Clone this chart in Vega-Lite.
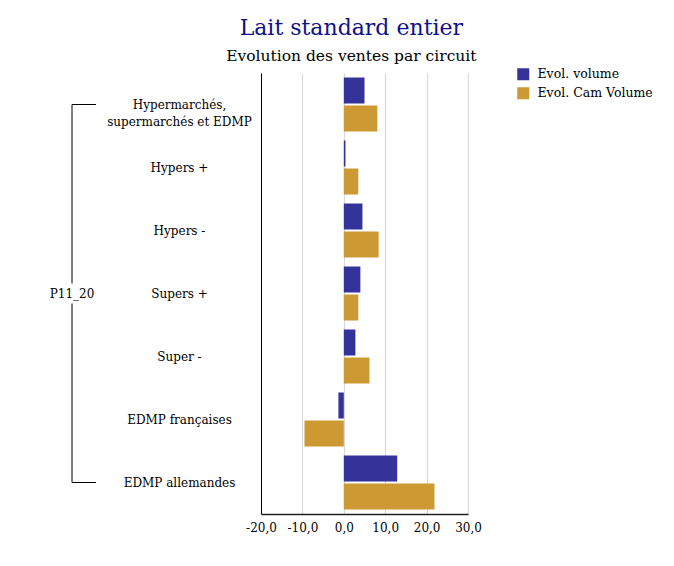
{
  "$schema": "https://vega.github.io/schema/vega-lite/v6.json",
  "background": "white",
  "padding": {"left": 49, "top": 16, "right": 5, "bottom": 5},
  "title": {
    "text": "Lait standard entier",
    "subtitle": "Evolution des ventes par circuit",
    "anchor": "middle",
    "font": "DejaVu Serif",
    "fontSize": 22,
    "fontWeight": "normal",
    "color": "#10108a",
    "subtitleFont": "DejaVu Serif",
    "subtitleFontSize": 15.5,
    "subtitleColor": "black",
    "subtitlePadding": 9,
    "offset": 3
  },
  "datasets": {
    "ventes": [
      {"circuit": "Hypermarchés, supermarchés et EDMP", "serie": "Evol. volume", "valeur": 5.0},
      {"circuit": "Hypermarchés, supermarchés et EDMP", "serie": "Evol. Cam Volume", "valeur": 8.1},
      {"circuit": "Hypers +", "serie": "Evol. volume", "valeur": 0.4},
      {"circuit": "Hypers +", "serie": "Evol. Cam Volume", "valeur": 3.5},
      {"circuit": "Hypers -", "serie": "Evol. volume", "valeur": 4.5},
      {"circuit": "Hypers -", "serie": "Evol. Cam Volume", "valeur": 8.4},
      {"circuit": "Supers +", "serie": "Evol. volume", "valeur": 4.0},
      {"circuit": "Supers +", "serie": "Evol. Cam Volume", "valeur": 3.5},
      {"circuit": "Super -", "serie": "Evol. volume", "valeur": 2.8},
      {"circuit": "Super -", "serie": "Evol. Cam Volume", "valeur": 6.2},
      {"circuit": "EDMP françaises", "serie": "Evol. volume", "valeur": -1.3},
      {"circuit": "EDMP françaises", "serie": "Evol. Cam Volume", "valeur": -9.5},
      {"circuit": "EDMP allemandes", "serie": "Evol. volume", "valeur": 12.9},
      {"circuit": "EDMP allemandes", "serie": "Evol. Cam Volume", "valeur": 21.9}
    ],
    "groupe": [
      {"groupe": "P11_20", "premier": "Hypermarchés, supermarchés et EDMP", "dernier": "EDMP allemandes", "milieu": "Supers +"}
    ]
  },
  "bounds": "flush",
  "spacing": 165,
  "hconcat": [
    {
      "width": 24,
      "height": 441,
      "data": {"name": "groupe"},
      "layer": [
        {
          "mark": {"type": "rule", "color": "black", "strokeWidth": 1},
          "encoding": {
            "x": {"field": "groupe", "type": "nominal", "bandPosition": 0, "scale": {"paddingInner": 0, "paddingOuter": 0}, "axis": null},
            "y": {"field": "premier", "type": "nominal", "scale": {"domain": ["Hypermarchés, supermarchés et EDMP", "Hypers +", "Hypers -", "Supers +", "Super -", "EDMP françaises", "EDMP allemandes"], "paddingInner": 0.143, "paddingOuter": 0.0715}, "axis": null},
            "y2": {"field": "dernier"}
          }
        },
        {
          "transform": [{"fold": ["premier", "dernier"], "as": ["bout", "circuit"]}],
          "mark": {"type": "rule", "color": "black", "strokeWidth": 1},
          "encoding": {
            "x": {"field": "groupe", "type": "nominal", "bandPosition": 0},
            "x2": {"field": "groupe", "bandPosition": 1},
            "y": {"field": "circuit", "type": "nominal"}
          }
        },
        {
          "mark": {"type": "point", "shape": "square", "size": 400, "filled": true, "color": "white", "opacity": 1, "strokeWidth": 0},
          "encoding": {
            "x": {"field": "groupe", "type": "nominal", "bandPosition": 0},
            "y": {"field": "milieu", "type": "nominal"}
          }
        },
        {
          "mark": {"type": "text", "font": "DejaVu Serif", "fontSize": 12, "color": "black", "align": "center", "baseline": "middle"},
          "encoding": {
            "x": {"field": "groupe", "type": "nominal", "bandPosition": 0},
            "y": {"field": "milieu", "type": "nominal"},
            "text": {"field": "groupe"}
          }
        }
      ]
    },
    {
      "width": 207,
      "height": 441,
      "data": {"name": "ventes"},
      "mark": {"type": "bar"},
      "encoding": {
        "y": {
          "field": "circuit", "type": "nominal", "sort": null,
          "scale": {"domain": ["Hypermarchés, supermarchés et EDMP", "Hypers +", "Hypers -", "Supers +", "Super -", "EDMP françaises", "EDMP allemandes"], "paddingInner": 0.143, "paddingOuter": 0.0715},
          "axis": {
            "title": null, "ticks": false, "domainColor": "black", "domainWidth": 1,
            "labelAlign": "center", "labelPadding": 82, "labelLimit": 0,
            "labelFont": "DejaVu Serif", "labelFontSize": 12, "labelColor": "black", "labelLineHeight": 17,
            "labelExpr": "datum.value == 'Hypermarchés, supermarchés et EDMP' ? ['Hypermarchés,', 'supermarchés et EDMP'] : datum.value"
          }
        },
        "yOffset": {
          "field": "serie", "type": "nominal", "sort": ["Evol. volume", "Evol. Cam Volume"],
          "scale": {"paddingInner": 0.0714, "paddingOuter": 0}
        },
        "x": {
          "field": "valeur", "type": "quantitative",
          "scale": {"domain": [-20, 30], "nice": false, "zero": false},
          "axis": {
            "title": null, "values": [-20, -10, 0, 10, 20, 30], "format": ".1f",
            "labelExpr": "replace(replace(datum.label, '.', ','), '\u2212', '-')",
            "labelOverlap": false, "labelBound": false, "labelFlush": false,
            "grid": true, "gridColor": "#d9d9d9", "gridWidth": 1.2,
            "ticks": false, "domainColor": "#222222", "domainWidth": 1.5,
            "labelFont": "DejaVu Serif", "labelFontSize": 12, "labelColor": "black", "labelPadding": 8
          }
        },
        "color": {
          "field": "serie", "type": "nominal",
          "scale": {"domain": ["Evol. volume", "Evol. Cam Volume"], "range": ["#333399", "#cc9933"]},
          "legend": {
            "title": null, "orient": "none", "legendX": 445, "legendY": -5,
            "symbolType": "square", "symbolSize": 144, "symbolStrokeWidth": 0, "symbolOpacity": 1,
            "labelFont": "DejaVu Serif", "labelFontSize": 12.5, "labelColor": "black", "labelOffset": 8,
            "rowPadding": 6
          }
        }
      }
    }
  ],
  "config": {
    "view": {"stroke": null}
  }
}
